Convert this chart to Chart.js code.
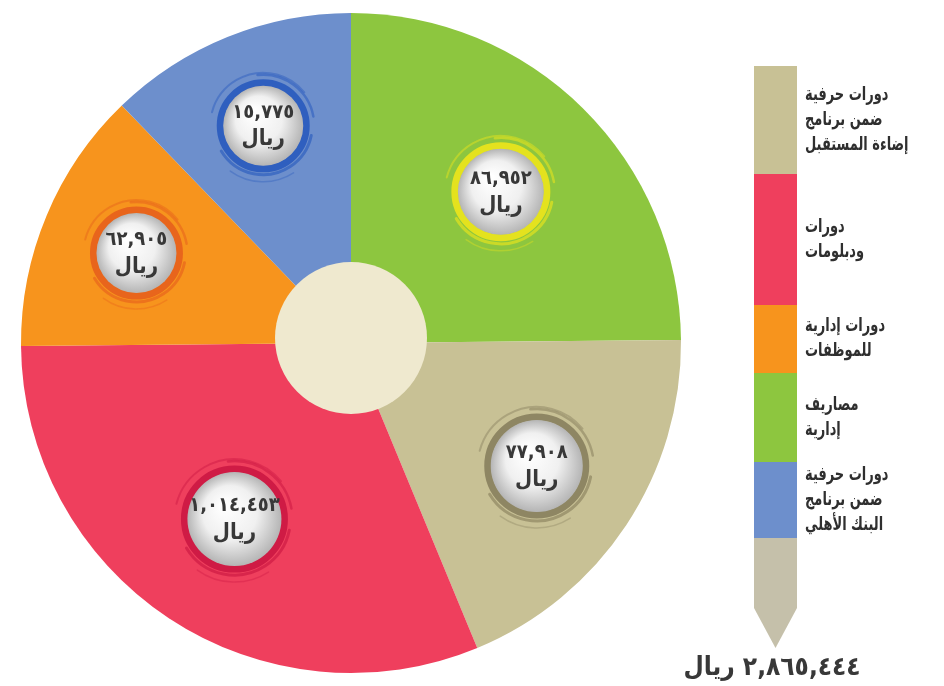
<!DOCTYPE html>
<html lang="ar">
<head>
<meta charset="UTF-8">
<title>توزيع المصاريف</title>
<script src="https://cdn.jsdelivr.net/npm/chart.js"></script>
<style>
    html, body { margin: 0; padding: 0; background: #fff; }
    #wrap { position: relative; width: 944px; height: 686px; }
</style>
</head>
<body>
<div id="wrap"><canvas id="pieChart" width="944" height="686"></canvas></div>
<script>
// slices, clockwise from the top
const categories = ['مصاريف إدارية', 'دورات حرفية ضمن برنامج إضاءة المستقبل', 'دورات ودبلومات', 'دورات إدارية للموظفات', 'دورات حرفية ضمن برنامج البنك الأهلي'];
const amounts = ['٨٦,٩٥٢', '٧٧,٩٠٨', '١,٠١٤,٤٥٣', '٦٢,٩٠٥', '١٥,٧٧٥'];
const sliceShare = [89.5, 68, 112, 46.5, 44]; // angle of each slice in the picture (degrees)
const sliceColors = ['#8dc63f', '#c8c195', '#ef3f5d', '#f7941d', '#6d8fcc'];
const ringColors = ['#e4e21e', '#8e8663', '#cf1b45', '#e8651c', '#2f5fbf'];
const badgeDist = [0.645, 0.675, 0.64, 0.705, 0.71];
const badgeSize = [43, 46, 47, 40, 40];

// legend bar, top to bottom
const legendLines = [
    ['دورات حرفية', 'ضمن برنامج', 'إضاءة المستقبل'],
    ['دورات', 'ودبلومات'],
    ['دورات إدارية', 'للموظفات'],
    ['مصاريف', 'إدارية'],
    ['دورات حرفية', 'ضمن برنامج', 'البنك الأهلي'],
    []
];
const legendColors = ['#c8c195', '#ef3f5d', '#f7941d', '#8dc63f', '#6d8fcc', '#c5c0aa'];
const legendStops = [66, 174, 305, 373, 462, 538, 608];
const totalLabel = '٢,٨٦٥,٤٤٤ ريال';

const FONT = '"DejaVu Sans Condensed", "DejaVu Sans", sans-serif';

function drawBadge(ctx, x, y, rad, ring, amount) {
    // loose brush strokes round the badge
    ctx.save();
    ctx.strokeStyle = ring;
    ctx.lineCap = 'round';
    const strokes = [[9, 0.2, 2.6, 3, 0.7], [13, 3.4, 5.6, 2, 0.5], [16, 1.0, 2.2, 1.5, 0.4], [11, 4.6, 6.1, 2.5, 0.6]];
    strokes.forEach(s => {
        ctx.globalAlpha = s[4];
        ctx.lineWidth = s[3];
        ctx.beginPath();
        ctx.arc(x, y, rad + s[0], s[1], s[2]);
        ctx.stroke();
    });
    ctx.globalAlpha = 1;
    ctx.lineWidth = 7;
    ctx.beginPath();
    ctx.arc(x, y, rad + 3, 0, Math.PI * 2);
    ctx.stroke();

    const g = ctx.createRadialGradient(x - 10, y - 14, 3, x, y, rad);
    g.addColorStop(0, '#ffffff');
    g.addColorStop(0.55, '#f0f0f0');
    g.addColorStop(1, '#b5b5b5');
    ctx.fillStyle = g;
    ctx.beginPath();
    ctx.arc(x, y, rad, 0, Math.PI * 2);
    ctx.fill();

    ctx.fillStyle = '#383838';
    ctx.textAlign = 'center';
    ctx.textBaseline = 'middle';
    ctx.direction = 'rtl';
    ctx.font = 'bold 20px ' + FONT;
    ctx.fillText(amount, x, y - 13);
    ctx.font = 'bold 22px ' + FONT;
    ctx.fillText('ريال', x, y + 14);
    ctx.restore();
}

const decorations = {
    id: 'decorations',
    afterDatasetsDraw(chart) {
        const ctx = chart.ctx;
        const meta = chart.getDatasetMeta(0);
        const first = meta.data[0];

        // cream centre
        ctx.save();
        ctx.fillStyle = '#efe9cf';
        ctx.beginPath();
        ctx.arc(first.x, first.y - 5, 76, 0, Math.PI * 2);
        ctx.fill();
        ctx.restore();

        meta.data.forEach((arc, i) => {
            const mid = (arc.startAngle + arc.endAngle) / 2;
            const r = arc.outerRadius * badgeDist[i];
            drawBadge(ctx, arc.x + Math.cos(mid) * r, arc.y + Math.sin(mid) * r, badgeSize[i], ringColors[i], amounts[i]);
        });

        // legend bar
        const bx = 754, bw = 43;
        ctx.save();
        legendColors.forEach((c, i) => {
            ctx.fillStyle = c;
            ctx.fillRect(bx, legendStops[i], bw, legendStops[i + 1] - legendStops[i] + (i < legendColors.length - 1 ? 0.5 : 0));
        });
        ctx.fillStyle = legendColors[legendColors.length - 1];
        ctx.beginPath();
        ctx.moveTo(bx, legendStops[legendStops.length - 1]);
        ctx.lineTo(bx + bw, legendStops[legendStops.length - 1]);
        ctx.lineTo(bx + bw / 2, 648);
        ctx.closePath();
        ctx.fill();

        // legend text, squeezed a little to match the narrow face of the original
        ctx.fillStyle = '#2f2f2f';
        ctx.font = 'bold 19px ' + FONT;
        ctx.textBaseline = 'middle';
        ctx.direction = 'rtl';
        ctx.textAlign = 'left';
        legendLines.forEach((lines, i) => {
            if (!lines.length) return;
            const cy = (legendStops[i] + legendStops[i + 1]) / 2;
            lines.forEach((t, j) => {
                ctx.save();
                ctx.translate(805, cy + (j - (lines.length - 1) / 2) * 25);
                ctx.scale(0.76, 1);
                ctx.fillText(t, 0, 0);
                ctx.restore();
            });
        });

        ctx.font = 'bold 26px ' + FONT;
        ctx.textAlign = 'center';
        ctx.fillStyle = '#383838';
        ctx.fillText(totalLabel, 772, 668);
        ctx.restore();
    }
};

new Chart(document.getElementById('pieChart'), {
    type: 'pie',
    data: {
        labels: categories,
        datasets: [{
            data: sliceShare,
            backgroundColor: sliceColors,
            borderWidth: 0
        }]
    },
    options: {
        responsive: false,
        animation: false,
        rotation: 0,
        layout: { padding: { left: 21, top: 13, right: 263, bottom: 13 } },
        plugins: {
            legend: { display: false },
            tooltip: { enabled: false }
        }
    },
    plugins: [decorations]
});
</script>
</body>
</html>
